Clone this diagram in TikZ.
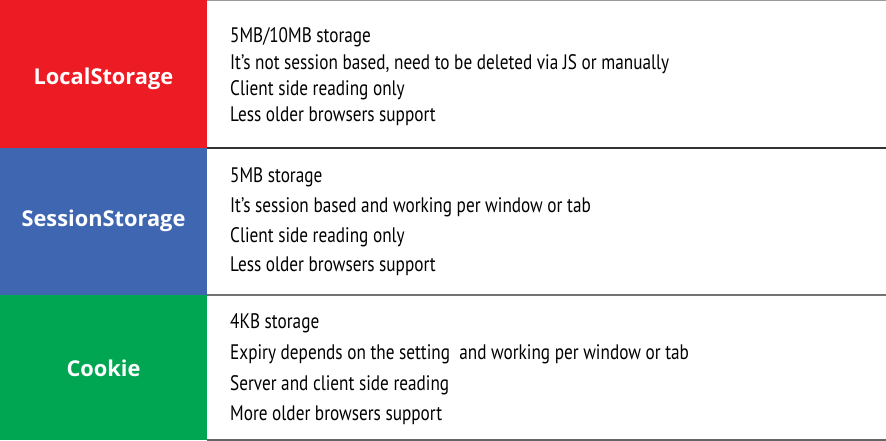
\documentclass[tikz,border=0pt]{standalone}
\usepackage{fontspec}
\setmainfont{PT Sans}[FakeStretch=0.82]
\newfontfamily\kindfont{Open Sans}
\definecolor{localred}{HTML}{ED1C24}
\definecolor{sessionblue}{HTML}{3F67B1}
\definecolor{cookiegreen}{HTML}{00A651}
\begin{document}
\begin{tikzpicture}[x=1pt,y=-1pt]
        \tikzstyle{kind} = [minimum width=207pt,inner sep=0pt,text depth=0pt,text=white,font=\kindfont\bfseries\fontsize{21.8}{24}\selectfont]
        \tikzstyle{info} = [anchor=west,align=left,inner sep=0pt]
        \tikzstyle{rule} = [line width=1.5pt]

        \useasboundingbox (0,0) rectangle (886,440);
        \coordinate (edge) at (886,0);

        \node[kind,fill=localred,minimum height=148pt,text height=20pt] (local) at (103.5,74){LocalStorage};
        \node[kind,fill=sessionblue,minimum height=147pt,text height=9pt] (session) at (103.5,221.5){SessionStorage};
        \node[kind,fill=cookiegreen,minimum height=145pt,text height=17pt] (cookie) at (103.5,367.5){Cookie};

        \node[info,font=\fontsize{21}{26.3}\selectfont] (localtext) at (230,77){5MB/10MB storage\\It’s not session based, need to be deleted via JS or manually\\Client side reading only\\Less older browsers support};
        \node[info,font=\fontsize{21}{29.7}\selectfont] (sessiontext) at (230,222){5MB storage\\It’s session based and working per window or tab\\Client side reading only\\Less older browsers support};
        \node[info,font=\fontsize{21}{30.7}\selectfont] (cookietext) at (230,369.5){4KB storage\\Expiry depends on the setting ~and working per window or tab\\Server and client side reading\\More older browsers support};

        \draw[rule,black!40] (local.north east) -- (local.north east -| edge);
        \draw[rule,black!80] (local.south east) -- (local.south east -| edge);
        \draw[rule,black!55] (session.south east) -- (session.south east -| edge);
        \draw[rule,black!60] (cookie.south east) -- (cookie.south east -| edge);

    \end{tikzpicture}
\end{document}
